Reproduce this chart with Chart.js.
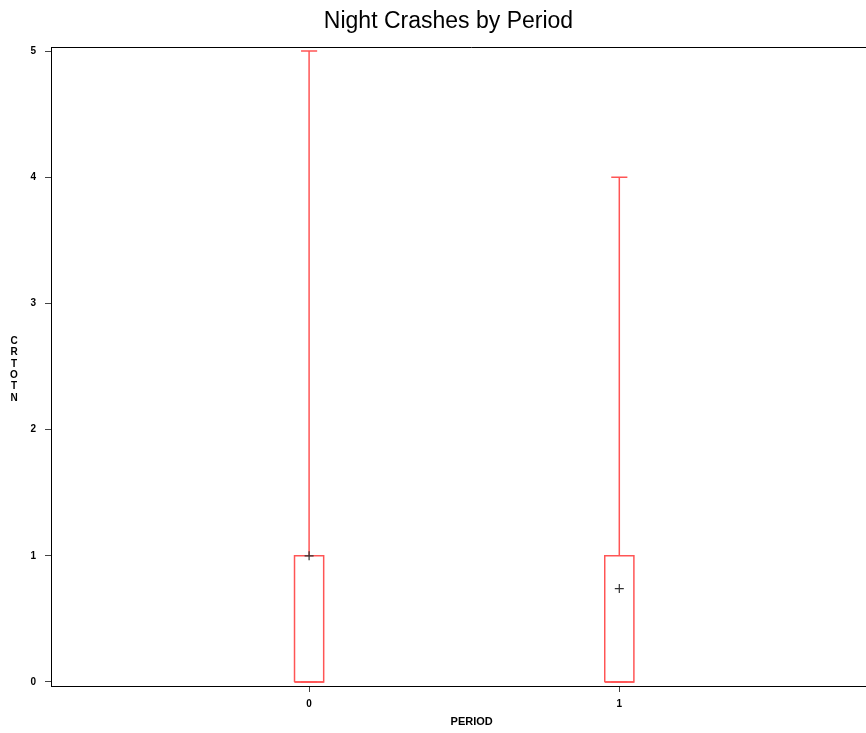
<!DOCTYPE html>
<html>
<head>
<meta charset="utf-8">
<script src="https://cdn.jsdelivr.net/npm/chart.js@4/dist/chart.umd.min.js"></script>
<style>
  html, body { margin: 0; padding: 0; background: #fff; overflow: hidden; }
  #wrap { position: relative; width: 898px; height: 733px; }
</style>
</head>
<body>
<div id="wrap"><canvas id="boxChart"></canvas></div>
<script>
// Box plot summary per period
const periods = [0, 1];
const mins = [0, 0];
const q1s = [0, 0];
const medians = [0, 0];
const q3s = [1, 1];
const maxs = [5, 4];
const means = [1, 0.74];
const yTicks = [0, 1, 2, 3, 4, 5];

const boxColor = 'rgb(255, 85, 85)';
const boxHalf = 0.047;   // half width of the box, in x units
const capHalf = 0.026;   // half width of the whisker caps

const lineSet = (data) => ({
  type: 'line',
  data: data,
  borderColor: boxColor,
  borderWidth: 1.5,
  pointRadius: 0,
  fill: false,
  tension: 0
});

const datasets = [];
periods.forEach((x, i) => {
  // box
  datasets.push(lineSet([
    { x: x - boxHalf, y: q1s[i] }, { x: x + boxHalf, y: q1s[i] },
    { x: x + boxHalf, y: q3s[i] }, { x: x - boxHalf, y: q3s[i] },
    { x: x - boxHalf, y: q1s[i] }
  ]));
  // median
  datasets.push(lineSet([{ x: x - boxHalf, y: medians[i] }, { x: x + boxHalf, y: medians[i] }]));
  // whiskers
  datasets.push(lineSet([{ x: x, y: q3s[i] }, { x: x, y: maxs[i] }]));
  datasets.push(lineSet([{ x: x, y: mins[i] }, { x: x, y: q1s[i] }]));
  // caps
  datasets.push(lineSet([{ x: x - capHalf, y: maxs[i] }, { x: x + capHalf, y: maxs[i] }]));
  datasets.push(lineSet([{ x: x - capHalf, y: mins[i] }, { x: x + capHalf, y: mins[i] }]));
});

// means as '+' markers, drawn on top of the boxes
datasets.push({
  type: 'scatter',
  order: -1,
  data: periods.map((x, i) => ({ x: x, y: means[i] })),
  pointStyle: 'cross',
  pointRadius: 4.5,
  borderColor: '#333',
  borderWidth: 1.2
});

// frame on top + stacked y-axis title
const framePlugin = {
  id: 'frame',
  afterDraw(chart) {
    const { ctx, chartArea } = chart;
    ctx.save();
    ctx.strokeStyle = '#000';
    ctx.lineWidth = 1;
    ctx.beginPath();
    ctx.moveTo(chartArea.left, chartArea.top + 0.5);
    ctx.lineTo(chartArea.right, chartArea.top + 0.5);
    ctx.stroke();

    const letters = 'CRTOTN'.split('');
    ctx.fillStyle = '#000';
    ctx.font = 'bold 10px "Liberation Sans", Arial, sans-serif';
    ctx.textAlign = 'center';
    ctx.textBaseline = 'middle';
    const mid = (chartArea.top + chartArea.bottom) / 2 + 3;
    const step = 11.4;
    letters.forEach((ch, k) => {
      ctx.fillText(ch, 14, mid + (k - (letters.length - 1) / 2) * step);
    });
    ctx.restore();
  }
};

const tickFont = { family: '"Liberation Sans", Arial, sans-serif', size: 10, weight: 'bold' };

new Chart(document.getElementById('boxChart'), {
  type: 'scatter',
  data: { datasets: datasets },
  plugins: [framePlugin],
  options: {
    responsive: true,
    maintainAspectRatio: false,
    animation: false,
    layout: { padding: { left: 0, right: 1, top: 0, bottom: 0 } },
    plugins: {
      legend: { display: false },
      tooltip: { enabled: false },
      title: {
        display: true,
        text: 'Night Crashes by Period',
        color: '#000',
        font: { family: '"Liberation Sans", Arial, sans-serif', size: 23, weight: 'normal' },
        padding: { top: 7.5, bottom: 11.9 }
      }
    },
    scales: {
      x: {
        type: 'linear',
        min: -0.832,
        max: 1.88,
        afterBuildTicks: axis => { axis.ticks = periods.map(v => ({ value: v })); },
        afterFit: axis => { axis.height = 47; },
        ticks: { color: '#000', font: tickFont, padding: 6, maxRotation: 0 },
        grid: { drawOnChartArea: false, drawTicks: true, tickLength: 6, color: '#444' },
        border: { display: true, color: '#000', width: 1 },
        title: {
          display: true,
          text: 'PERIOD',
          color: '#000',
          font: { family: '"Liberation Sans", Arial, sans-serif', size: 11, weight: 'bold' },
          padding: { top: 0, bottom: 4 }
        }
      },
      y: {
        type: 'linear',
        min: -0.032,
        max: 5.032,
        afterBuildTicks: axis => { axis.ticks = yTicks.map(v => ({ value: v })); },
        afterFit: axis => { axis.width = 51; },
        ticks: { color: '#000', font: tickFont, padding: 9 },
        grid: { drawOnChartArea: false, drawTicks: true, tickLength: 6, color: '#444' },
        border: { display: true, color: '#000', width: 1 }
      }
    }
  }
});
</script>
</body>
</html>
